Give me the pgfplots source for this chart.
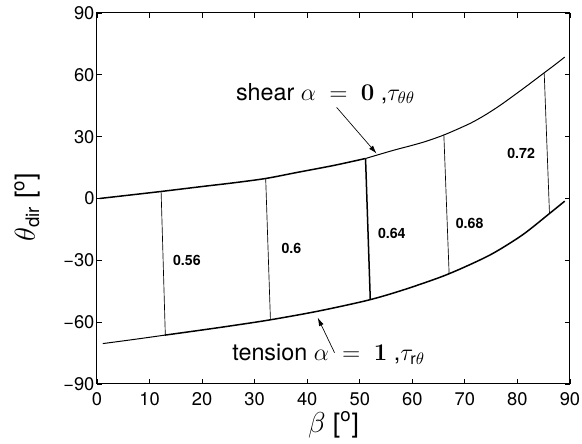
\documentclass[border=0pt]{standalone}
\usepackage{amsmath}
\usepackage[no-math]{fontspec}
\setmainfont{TeX Gyre Heros}
\usepackage{pgfplots}
\pgfplotsset{compat=1.18}
\usetikzlibrary{arrows.meta}
\newcommand{\tl}[1]{\fontsize{11}{13}\selectfont #1}

\begin{document}
\begin{tikzpicture}
\begin{axis}[
  scale only axis,
  width=283.8pt, height=222.6pt,
  xmin=0, xmax=90, ymin=-90, ymax=90,
  clip=false,
  xtick={0,10,20,30,40,50,60,70,80,90},
  xticklabels={\tl{0},\tl{10},\tl{20},\tl{30},\tl{40},\tl{50},\tl{60},\tl{70},\tl{80},\tl{90}},
  ytick={-90,-60,-30,0,30,60,90},
  yticklabels={\tl{−90},\tl{−60},\tl{−30},\tl{0},\tl{30},\tl{60},\tl{90}},
  tick align=inside,
  major tick length=3pt,
  tick style={black, line width=0.5pt},
  axis line style={line width=0.6pt},
  xticklabel style={font=\fontsize{11}{13}\selectfont, yshift=-1.6pt},
  yticklabel style={font=\fontsize{11}{13}\selectfont, xshift=2pt},
  xlabel={$\beta$ [\textsuperscript{o}]},
  ylabel={$\theta_{\text{dir}}$ [\textsuperscript{o}]},
  label style={font=\fontsize{16}{18}\selectfont},
  xlabel style={at={(axis description cs:0.5,-0.11)}, anchor=center},
  ylabel style={at={(axis description cs:-0.147,0.477)}, anchor=center},
]
% shear (alpha = 0)
\addplot[black, line width=0.9pt, smooth] coordinates {
  (0.5,0) (5,1.3) (12.2,3.4) (20,5.8) (26,7.6) (32.1,9.7) (38,12.6)
  (45,16.0) (51.1,19.4)};
\addplot[black, line width=0.6pt, smooth] coordinates {
  (51.1,19.4) (56.3,23.3) (60,25.8) (62.7,27.8) (66.2,31) (70.9,36.3)
  (73.8,40.4) (76.6,45.0) (79.5,50.3) (82,55.0) (84.8,60.4) (87,64.6) (89,68.6)};
% tension (alpha = 1)
\addplot[black, line width=0.6pt, smooth] coordinates {
  (1.1,-70.4) (7,-68.4) (12.9,-66.3)};
\addplot[black, line width=0.9pt, smooth] coordinates {
  (12.9,-66.3) (20,-63.8) (26,-61.6) (32.9,-58.9) (42,-54.7) (51.5,-49.4)
  (58,-44.6) (65.2,-38.3) (70,-33.2) (75.3,-26.7) (81,-17.6) (86.1,-7.3) (89,-1.3)};
% iso-lines
\addplot[black, line width=0.4pt] coordinates {(12.2,3.4) (13.0,-66.3)};
\addplot[black, line width=0.4pt] coordinates {(32.1,9.7) (33.0,-58.8)};
\addplot[black, line width=0.9pt] coordinates {(51.1,19.4) (52.0,-49.0)};
\addplot[black, line width=0.4pt] coordinates {(66.0,31) (67.0,-36.4)};
\addplot[black, line width=0.4pt] coordinates {(85.1,60.7) (86.1,-7.3)};

\begin{scope}[font=\fontsize{8.5}{10}\selectfont\bfseries]
\node at (axis cs:17.1,-30.1) {0.56};
\node at (axis cs:37,-24.3) {0.6};
\node at (axis cs:56.1,-16.8) {0.64};
\node at (axis cs:70.9,-12.3) {0.68};
\node at (axis cs:80.7,21.7) {0.72};
\end{scope}

\node[anchor=base west, inner sep=0, font=\fontsize{14}{16}\selectfont]
  at (axis cs:26.4,47.6) {shear $\alpha\;=\;\mathbf{0}$ ,$\tau_{\theta\theta}$};
\node[anchor=base west, inner sep=0, font=\fontsize{14}{16}\selectfont]
  at (axis cs:25.7,-78.6) {tension $\alpha\;=\;\mathbf{1}$ ,$\tau_{\text{r}\theta}$};
\draw[-{Latex[length=5pt,width=3pt]}, line width=0.4pt]
  (axis cs:45.6,44.2) -- (axis cs:53.2,21.8);
\draw[-{Latex[length=5pt,width=3pt]}, line width=0.4pt]
  (axis cs:45.2,-74.8) -- (axis cs:42,-57.8);
\end{axis}
\pgfresetboundingbox
\path[use as bounding box] (-58.2pt,-36pt) rectangle (291pt,230.4pt);
\end{tikzpicture}
\end{document}
